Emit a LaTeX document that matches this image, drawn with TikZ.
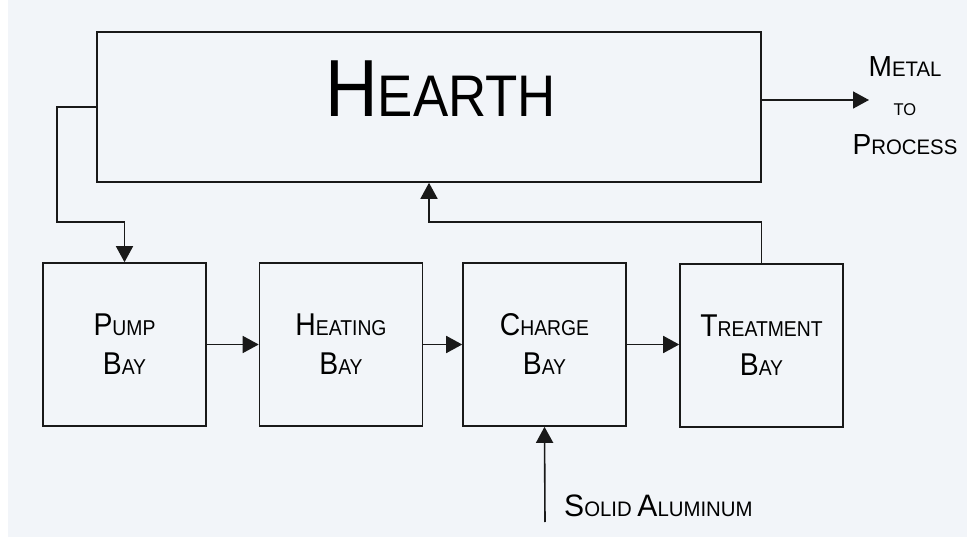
\documentclass[tikz,border=0pt]{standalone}
\usepackage{fontspec}
\setmainfont{Liberation Sans}
\newfontfamily\labfont[FakeStretch=0.9]{Liberation Sans}
\newfontfamily\sidefont[FakeStretch=0.97]{Liberation Sans}
\usetikzlibrary{arrows.meta,calc}
\definecolor{bgc}{RGB}{242,245,249}
\definecolor{ln}{RGB}{25,25,25}
\newcommand\capsc[4]{{\fontsize{#1}{39}\selectfont #3}{\fontsize{#2}{39}\selectfont #4}}
\begin{document}
\begin{tikzpicture}[x=1pt,y=-1pt,
  bay/.style={draw=ln, line width=1.6pt, minimum width=163pt, minimum height=163pt, inner sep=0pt, align=center, font=\labfont\fontsize{31.5}{39}\selectfont},
  hearthbox/.style={draw=ln, line width=1.6pt, minimum width=664pt, minimum height=150pt, inner sep=0pt},
  lbl/.style={inner sep=0pt, font=\sidefont\fontsize{29}{39}\selectfont, text=black},
  arr/.style={draw=ln, line width=1.6pt, -{Triangle[length=16pt,width=17pt]}}]
\useasboundingbox (0,0) rectangle (972,537);
\fill[white] (0,0) rectangle (972,537);
\fill[bgc] (8,0) rectangle (967,537);

\node[hearthbox] (hearth) at (429,107) {};
\node[lbl, anchor=base, font=\labfont] (hearthlbl) at (440.5,117) {\capsc{81}{58.7}{H}{EARTH}};

\node[bay] (pump) at (124.5,344.5) {\capsc{31.5}{21.5}{P}{UMP}\\\capsc{31.5}{21.5}{B}{AY}};
\node[bay] (heat) at (341,344.5) {\capsc{31.5}{21.5}{H}{EATING}\\\capsc{31.5}{21.5}{B}{AY}};
\node[bay] (charge) at (544.5,344.5) {\capsc{31.5}{21.5}{C}{HARGE}\\\capsc{31.5}{21.5}{B}{AY}};
\node[bay] (treat) at (761.5,345.5) {\capsc{31.5}{21.5}{T}{REATMENT}\\\capsc{31.5}{21.5}{B}{AY}};

\node[lbl, align=center, anchor=base] (metal) at (905,155) {\capsc{29}{21}{M}{ETAL}\\{\fontsize{17}{39}\selectfont TO\hspace*{18pt}}\\\capsc{29}{21}{P}{ROCESS}};
\node[lbl, anchor=base west] (solid) at (564,516) {\capsc{31}{21}{S}{OLID}\fontsize{21}{39}\selectfont{} \capsc{31}{21}{A}{LUMINUM}};

\coordinate (c1) at (57,222);
\coordinate (c2) at (429,222);
\coordinate (mt) at (869,100);
\coordinate (sa) at (545,522);

\draw[arr] (hearth.west) -| (c1) -| (pump.north);
\draw[arr] (treat.north) |- (c2) -- (hearth.south);
\draw[arr] (hearth.east |- mt) -- (mt);
\draw[arr] (pump.east) -- (heat.west);
\draw[arr] (heat.east) -- (charge.west);
\draw[arr] (charge.east) -- (treat.west |- charge.east);
\draw[arr] (sa) -- (charge.south);
\end{tikzpicture}
\end{document}
